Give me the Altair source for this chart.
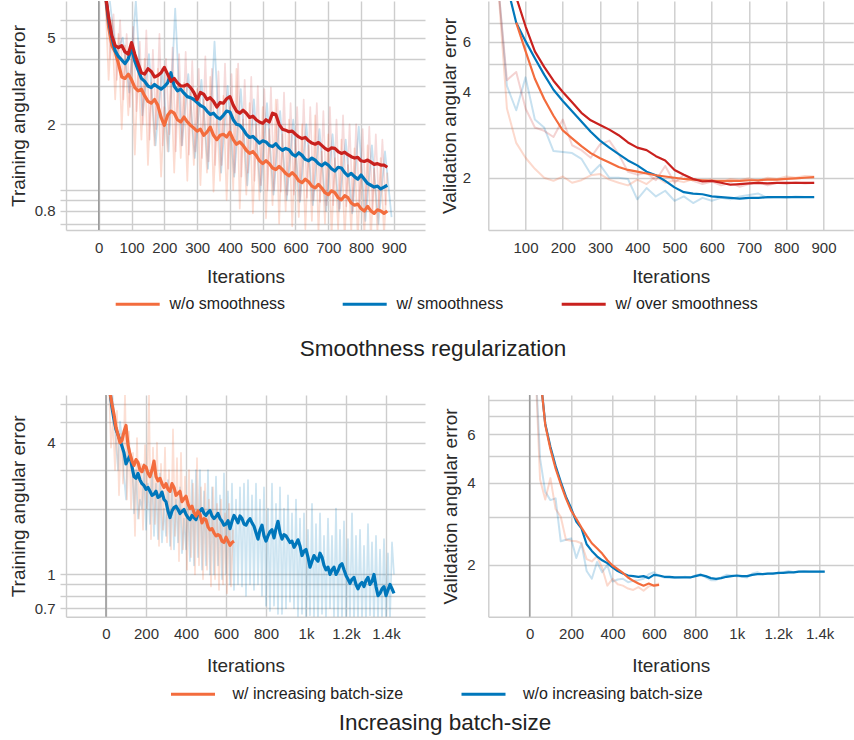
import altair as alt
import pandas as pd

# ---------------- data ----------------
# Top row: smoothness regularization
smooth_names = ["w/o smoothness", "w/ smoothness", "w/ over smoothness"]
# training, smoothed curves, iterations 20..880 step 10
tl_wo = [8.0, 5.6, 4.6, 4.3, 3.8, 3.3, 3.25, 3.4, 3.2, 2.95, 2.85, 2.9, 2.7, 2.55, 2.5, 2.6, 2.45, 2.15, 1.98, 2.2,
         2.3, 2.25, 2.1, 2.05, 2.16, 2.05, 1.98, 1.92, 1.86, 1.9, 1.78, 1.84, 1.94, 1.78, 1.7, 1.78, 1.8, 1.75, 1.84,
         1.7, 1.62, 1.66, 1.6, 1.52, 1.47, 1.5, 1.44, 1.36, 1.32, 1.36, 1.32, 1.26, 1.24, 1.28, 1.24, 1.19, 1.16,
         1.2, 1.16, 1.1, 1.08, 1.12, 1.09, 1.04, 1.02, 1.06, 1.02, 0.97, 0.95, 0.99, 0.97, 0.92, 0.9, 0.94, 0.92,
         0.87, 0.85, 0.86, 0.82, 0.8, 0.84, 0.8, 0.78, 0.81, 0.8, 0.78, 0.8]
tl_w = [8.0, 6.0, 5.0, 4.35, 4.1, 3.95, 3.8, 4.0, 4.5, 3.9, 3.55, 3.25, 3.15, 3.0, 2.95, 3.05, 2.97, 2.9, 2.98, 3.1,
        3.45, 3.0, 2.85, 2.9, 2.78, 2.68, 2.65, 2.6, 2.52, 2.44, 2.4, 2.3, 2.22, 2.25, 2.16, 2.12, 2.2, 2.3, 2.28,
        2.1, 2.0, 1.98, 1.9, 1.8, 1.74, 1.76, 1.7, 1.64, 1.68, 1.66, 1.6, 1.58, 1.63, 1.56, 1.52, 1.55, 1.53, 1.46,
        1.43, 1.48, 1.44, 1.38, 1.36, 1.4, 1.37, 1.32, 1.29, 1.33, 1.3, 1.25, 1.22, 1.27, 1.26, 1.2, 1.16, 1.19,
        1.15, 1.12, 1.17, 1.12, 1.07, 1.05, 1.03, 1.04, 1.01, 1.03, 1.05]
tl_over = [8.0, 6.2, 5.1, 4.6, 4.5, 4.6, 4.3, 4.2, 4.75, 4.2, 3.8, 3.45, 3.4, 3.6, 3.5, 3.3, 3.35, 3.45, 3.65, 3.4,
           3.15, 3.25, 3.1, 3.0, 3.0, 3.05, 2.95, 2.8, 2.6, 2.8, 2.75, 2.6, 2.65, 2.55, 2.4, 2.52, 2.5, 2.62, 2.68,
           2.45, 2.3, 2.25, 2.32, 2.25, 2.15, 2.18, 2.1, 2.05, 2.02, 2.1, 2.05, 2.25, 2.22, 2.0, 1.9, 1.88, 1.85,
           1.86, 1.8, 1.75, 1.72, 1.74, 1.68, 1.64, 1.62, 1.65, 1.6, 1.55, 1.52, 1.56, 1.55, 1.5, 1.47, 1.49, 1.45,
           1.42, 1.4, 1.41, 1.36, 1.35, 1.37, 1.34, 1.31, 1.32, 1.3, 1.3, 1.27]
# training, raw curves: orange step 10 from 20, red step 10 from 25, blue step 20 from 33
tl_raw_wo = [7.6, 3.2, 6.0, 2.6, 5.2, 1.9, 4.6, 2.2, 4.2,
             1.45, 3.8, 1.7, 4.0, 1.3, 3.1, 1.6, 3.6, 1.15, 2.4,
             1.5, 3.4, 1.2, 3.0, 1.4, 3.1, 1.1, 2.8, 1.3, 2.9,
             1.05, 2.6, 1.2, 3.3, 0.98, 2.2, 1.1, 2.7, 0.9, 2.4,
             1.0, 3.6, 0.82, 2.1, 0.95, 2.5, 0.78, 2.0, 0.9, 2.4,
             0.74, 1.9, 0.85, 2.6, 0.7, 1.8, 0.8, 2.1, 0.68, 1.7,
             0.75, 2.0, 0.66, 1.6, 0.72, 2.2, 0.64, 1.5, 0.7, 1.8,
             0.62, 1.4, 0.66, 1.7, 0.6, 1.3, 0.64, 1.55, 0.6, 1.35,
             0.62, 1.6, 0.6, 1.25, 0.64, 1.4, 0.62, 1.2]
tl_raw_over = [7.8, 4.0, 6.4, 3.2, 6.0, 2.6, 5.2, 2.4, 5.6, 2.3,
               4.8, 2.0, 5.4, 1.7, 4.4, 1.9, 5.2, 1.6, 4.0, 1.8,
               4.5, 1.5, 4.2, 1.6, 4.3, 1.45, 3.9, 1.5, 3.6, 1.4,
               4.1, 1.35, 3.6, 1.3, 3.5, 1.3, 3.8, 1.25, 3.4, 1.2,
               3.8, 1.15, 3.2, 1.2, 3.3, 1.1, 3.0, 1.05, 2.9, 1.0,
               2.95, 1.0, 2.6, 0.98, 2.8, 0.95, 2.5, 0.95, 2.4, 0.9,
               2.6, 0.92, 2.4, 0.9, 2.5, 0.88, 2.3, 0.85, 2.4, 0.85,
               2.1, 0.82, 2.2, 0.84, 2.0, 0.8, 2.0, 0.82, 1.9, 0.8,
               1.95, 0.8, 1.8, 0.82, 1.7, 0.85]
tl_raw_w = [7.5, 4.2, 5.0, 2.8, 7.4, 2.2, 4.2, 1.6, 3.6, 1.5, 6.8, 1.6, 3.4, 1.4, 3.2, 1.25, 4.8, 1.2, 3.0, 1.15,
            2.9, 1.05, 2.6, 0.98, 2.5, 0.95, 2.3, 0.9, 2.1, 0.88, 2.0, 0.85, 1.9, 0.8, 1.8, 0.8, 1.7, 0.78, 1.95,
            0.72, 1.6, 0.7, 1.5, 0.75]
# validation, smoothed (step 25; orange/red start 75, blue starts 50)
tr_wo = [7.0, 5.56, 4.45, 3.78, 3.3, 2.93, 2.75, 2.58, 2.44, 2.34, 2.26, 2.18, 2.13, 2.1, 2.07, 2.04, 2.02, 2.0,
         1.98, 1.97, 1.96, 1.95, 1.95, 1.95, 1.95, 1.96, 1.96, 1.97, 1.97, 1.98, 1.99, 2.0, 2.01]
tr_w = [9.5, 7.0, 6.03, 5.25, 4.6, 4.07, 3.72, 3.42, 3.15, 2.9, 2.7, 2.55, 2.42, 2.3, 2.21, 2.1, 2.04, 1.95, 1.85,
        1.78, 1.76, 1.75, 1.72, 1.71, 1.7, 1.69, 1.7, 1.7, 1.71, 1.71, 1.71, 1.71, 1.71, 1.71]
tr_over = [8.6, 6.8, 5.55, 4.9, 4.38, 4.0, 3.68, 3.38, 3.18, 3.06, 2.95, 2.82, 2.66, 2.55, 2.5, 2.38, 2.3, 2.13,
           2.05, 1.98, 1.94, 1.95, 1.92, 1.89, 1.9, 1.91, 1.92, 1.91, 1.92, 1.92, 1.92, 1.92, 1.92]
# validation, raw (step 25 from 25)
tr_raw_wo = [10.0, 3.5, 2.65, 2.35, 2.15, 2.0, 1.95, 2.02, 1.92, 1.96, 2.04, 2.06, 1.97, 1.92, 1.88, 1.97, 1.9,
             2.02, 1.92, 1.96, 1.93, 1.98, 1.95, 1.97, 1.92, 1.98, 1.96, 1.99, 1.95, 2.0, 1.98, 2.02, 2.0, 2.03, 2.02]
tr_raw_over = [10.0, 4.4, 4.7, 3.5, 3.0, 2.92, 2.78, 3.2, 2.6, 2.5, 2.35, 2.62, 2.7, 2.42, 2.1, 2.05, 2.08, 1.96,
               2.2, 1.92, 2.05, 1.95, 1.9, 1.94, 1.88, 1.92, 1.86, 1.9, 1.93, 1.88, 1.92, 1.9, 1.93, 1.91, 1.92]
tr_raw_w = [10.0, 4.2, 3.45, 4.5, 3.2, 3.0, 2.48, 2.46, 2.44, 2.33, 2.06, 2.22, 2.0, 2.0, 1.98, 1.68, 1.84, 1.72,
            1.8, 1.66, 1.72, 1.63, 1.7, 1.66, 1.7, 1.68, 1.72, 1.74, 1.76, 1.7, 1.71, 1.7, 1.72, 1.71, 1.71]

# Bottom row: increasing batch-size
batch_names = ["w/ increasing batch-size", "w/o increasing batch-size"]
# training smoothed, step 10 from 20
bl_w_inc = [6.8, 6.0, 5.4, 4.7, 4.35, 4.0, 4.1, 4.5, 4.8, 3.9,
            3.55, 3.3, 3.15, 3.35, 3.25, 3.0, 2.95, 3.15, 3.1, 2.9,
            2.8, 3.0, 3.3, 2.8, 2.68, 2.75, 2.6, 2.5, 2.6, 2.45,
            2.4, 2.6, 2.5, 2.3, 2.35, 2.4, 2.15, 2.22, 2.28, 2.1,
            2.0, 2.05, 1.92, 1.85, 1.95, 1.88, 1.72, 1.8, 1.78, 1.65,
            1.6, 1.62, 1.55, 1.5, 1.52, 1.5, 1.42, 1.4, 1.48, 1.42,
            1.36, 1.4, 1.42]
bl_wo_inc = [6.8, 5.8, 5.1, 4.6, 4.35, 4.1, 3.85, 3.6, 3.2, 3.35,
             3.5, 3.1, 2.8, 2.75, 2.9, 2.7, 2.6, 2.55, 2.45, 2.5,
             2.4, 2.3, 2.33, 2.4, 2.25, 2.28, 2.38, 2.2, 2.15, 1.95,
             1.82, 1.95, 2.02, 2.05, 1.98, 1.9, 1.94, 1.98, 1.88, 1.82,
             1.78, 1.86, 1.82, 1.78, 1.9, 1.95, 2.0, 1.9, 1.86, 1.92,
             1.96, 1.85, 1.8, 1.84, 1.9, 1.8, 1.75, 1.68, 1.7, 1.76,
             1.62, 1.75, 1.86, 1.8, 1.72, 1.85, 1.8, 1.7, 1.68, 1.75,
             1.8, 1.72, 1.66, 1.55, 1.45, 1.6, 1.68, 1.5, 1.42, 1.5,
             1.57, 1.6, 1.47, 1.62, 1.75, 1.55, 1.45, 1.52, 1.5, 1.45,
             1.4, 1.42, 1.33, 1.38, 1.44, 1.35, 1.22, 1.28, 1.3, 1.2,
             1.08, 1.15, 1.22, 1.18, 1.15, 1.25, 1.2, 1.1, 1.05, 1.08,
             1.0, 1.05, 1.08, 1.0, 1.04, 1.1, 1.12, 1.05, 0.99, 0.95,
             0.91, 0.95, 0.97, 0.9, 0.86, 0.9, 0.92, 0.88, 0.94, 0.97,
             0.9, 0.93, 1.0, 0.88, 0.8, 0.82, 0.86, 0.88, 0.8, 0.85,
             0.9, 0.86, 0.82]
# training raw: orange step 10 from 15, blue step 10 from 30
bl_raw_w_inc = [7.2, 3.8, 5.0, 3.0, 5.6, 2.3, 4.4, 2.6, 6.8, 2.2,
                4.5, 2.0, 3.6, 1.5, 4.2, 1.8, 3.2, 1.6, 3.9, 2.0,
                6.6, 1.45, 3.8, 1.7, 4.0, 1.35, 3.2, 1.6, 3.8, 1.4,
                3.0, 1.3, 4.6, 1.5, 3.4, 1.15, 3.6, 1.3, 2.8, 1.05,
                3.0, 1.2, 2.6, 1.0, 3.4, 1.1, 2.5, 0.95, 2.6, 1.05,
                2.2, 0.88, 2.5, 0.95, 2.1, 0.85, 2.2, 0.9, 1.9, 0.82,
                2.1, 0.88, 1.6]
bl_raw_wo_inc = [7.0, 5.5, 4.0, 3.0, 5.0, 4.2, 2.8, 2.2, 4.2, 3.6,
                 3.4, 1.9, 3.0, 1.8, 2.2, 2.0, 3.2, 1.6, 2.6, 1.7,
                 3.0, 1.5, 2.6, 1.45, 2.9, 1.4, 2.0, 1.5, 2.7, 1.35,
                 2.6, 1.3, 2.2, 1.4, 2.5, 1.25, 1.8, 1.3, 2.1, 1.15,
                 2.7, 1.1, 3.0, 1.2, 3.0, 1.05, 2.4, 1.1, 3.0, 1.0,
                 2.5, 1.0, 2.8, 1.1, 2.3, 0.95, 2.9, 1.0, 2.4, 0.9,
                 2.6, 0.85, 2.2, 0.9, 2.5, 0.88, 2.6, 0.8, 2.7, 0.9,
                 2.3, 0.85, 2.6, 0.9, 2.2, 0.8, 2.5, 0.72, 2.0, 0.68,
                 2.6, 0.72, 2.1, 0.66, 2.5, 0.66, 2.0, 0.7, 2.3, 0.75,
                 1.9, 0.7, 2.2, 0.64, 1.8, 0.66, 1.9, 0.62, 1.6, 0.65,
                 2.1, 0.63, 1.7, 0.6, 1.9, 0.66, 1.5, 0.62, 1.8, 0.7,
                 1.5, 0.64, 2.0, 0.6, 1.6, 0.62, 1.75, 0.6, 1.45, 0.63,
                 1.9, 0.6, 1.5, 0.62, 1.6, 0.62, 1.35, 0.6, 1.7, 0.65,
                 1.4, 0.6, 1.5, 0.62, 1.3, 0.62, 1.45, 0.6, 1.25, 0.62,
                 1.4, 1.0]
# validation smoothed, step 25 from 50
br_w_inc = [10.0, 6.5, 5.3, 4.5, 3.95, 3.5, 3.16, 2.95, 2.74, 2.56, 2.4, 2.3, 2.2, 2.08, 1.99, 1.93, 1.87, 1.8,
            1.75, 1.71, 1.68, 1.71, 1.68, 1.69]
br_wo_inc = [10.0, 6.56, 5.4, 4.6, 4.02, 3.55, 3.22, 2.88, 2.72, 2.38, 2.25, 2.15, 2.08, 2.03, 1.96, 1.9, 1.86, 1.83,
             1.82, 1.81, 1.82, 1.79, 1.84, 1.83, 1.81, 1.81, 1.8, 1.8, 1.8, 1.8, 1.82, 1.84, 1.82, 1.79, 1.78, 1.79,
             1.81, 1.82, 1.83, 1.82, 1.82, 1.84, 1.85, 1.85, 1.86, 1.86, 1.87, 1.87, 1.88, 1.88, 1.89, 1.89, 1.89,
             1.89, 1.89, 1.89]
# validation raw, step 25 from 25
br_raw_w_inc = [12.0, 4.1, 3.47, 4.15, 3.2, 3.0, 2.47, 2.45, 2.44, 2.4, 2.1, 2.06, 2.15, 1.95, 1.68, 1.78, 1.7,
                1.68, 1.64, 1.62, 1.66, 1.61, 1.67, 1.69, 1.71]
br_raw_wo_inc = [12.0, 4.9, 3.7, 3.45, 3.5, 2.44, 2.47, 2.5, 2.12, 2.4, 1.9, 1.78, 2.05, 1.88, 2.0, 1.74, 1.77, 1.78,
                 1.73, 1.75, 1.76, 1.78, 1.85, 1.88, 1.82, 1.8, 1.79, 1.79, 1.8, 1.81, 1.8, 1.83, 1.85, 1.8, 1.76,
                 1.76, 1.8, 1.84, 1.83, 1.82, 1.81, 1.8, 1.86, 1.88, 1.85, 1.86, 1.87, 1.86, 1.88, 1.9, 1.88, 1.89,
                 1.9, 1.89, 1.89, 1.89, 1.89]

# axis tick values
tl_xvals = [-100, 0, 100, 200, 300, 400, 500, 600, 700, 800, 900]
tr_xvals = [0, 100, 200, 300, 400, 500, 600, 700, 800, 900]
b_xvals = [-200, 0, 200, 400, 600, 800, 1000, 1200, 1400]
train_grid = [0.7, 0.8, 0.9, 1, 2, 3, 4, 5, 6]
val_grid_top = [2, 3, 4, 5, 6, 7]
val_grid_bot = [2, 3, 4, 5, 6, 7, 8]
zero_iter = [0]

# ---------------- style ----------------
FONT = "Liberation Sans"
TXT = "#333333"
TITLE_C = "#2a2a2a"
GRID = "#cdcdcd"
ZERO = "#9c9c9c"
ORANGE, BLUE, RED = "#f36c3d", "#0077bb", "#c9211e"

K_EXPR = ("datum.value < 0 ? '' : (datum.value >= 1000 ? format(datum.value / 1000, '~g') + 'k' "
          ": format(datum.value, 'd'))")


def sdf(start, step, values):
    return pd.DataFrame({"iter": [start + step * i for i in range(len(values))], "value": values})


def panel(raws, smooths, xdom, xvals, xhide, ydom, yvals, ylabs, ytitle, width, height,
          sw, yticks, ylpad, ytpad, xtpad, zero_line=True):
    labs = ",".join(str(v) for v in ylabs)
    x = alt.X("iter:Q", title="Iterations",
              scale=alt.Scale(domain=xdom, nice=False, zero=False),
              axis=alt.Axis(values=xvals, labelExpr=xhide, grid=True, gridColor=GRID,
                            gridWidth=1.4, ticks=False, domain=True, domainColor=GRID, domainWidth=1.4,
                            labelPadding=10, titlePadding=xtpad, labelFlush=False, labelOverlap=False))
    yaxis = dict(values=yvals, format="~g", labelExpr="indexof([" + labs + "], datum.value) >= 0 ? datum.label : ''",
                 grid=True, gridColor=GRID, gridWidth=1.4, domain=False, labelPadding=ylpad,
                 titlePadding=ytpad, labelOverlap=False, labelFlush=False)
    if yticks:
        yaxis.update(ticks=True, tickSize=6, tickColor=GRID, tickWidth=1.4)
    else:
        yaxis.update(ticks=False)
    y = alt.Y("value:Q", title=ytitle, scale=alt.Scale(type="log", domain=ydom, nice=False),
              axis=alt.Axis(**yaxis))
    layers = []
    if zero_line:
        layers.append(alt.Chart(pd.DataFrame({"iter": zero_iter})).mark_rule(
            color=ZERO, strokeWidth=1.6).encode(x=x))
    for df, col, op, w in raws:
        layers.append(alt.Chart(df).mark_line(strokeWidth=w, opacity=op, clip=True,
                                              strokeJoin="round").encode(x=x, y=y, color=alt.value(col)))
    for df, col in smooths:
        layers.append(alt.Chart(df).mark_line(strokeWidth=sw, clip=True,
                                              strokeJoin="round").encode(x=x, y=y, color=alt.value(col)))
    return alt.layer(*layers).properties(width=width, height=height)


TL = panel(
    raws=[(sdf(33, 20, tl_raw_w), BLUE, 0.22, 1.8), (sdf(20, 10, tl_raw_wo), ORANGE, 0.24, 1.7),
          (sdf(25, 10, tl_raw_over), RED, 0.16, 1.7)],
    smooths=[(sdf(20, 10, tl_wo), ORANGE), (sdf(20, 10, tl_w), BLUE), (sdf(20, 10, tl_over), RED)],
    xdom=[-100, 995], xvals=tl_xvals, xhide="datum.value < 0 ? '' : format(datum.value, 'd')",
    ydom=[0.654, 7.37], yvals=train_grid, ylabs=[5, 2, 0.8], ytitle="Training angular error",
    width=359, height=229, sw=3.2, yticks=True, ylpad=5, ytpad=6, xtpad=12)

TR = panel(
    raws=[(sdf(25, 25, tr_raw_w), BLUE, 0.22, 2), (sdf(25, 25, tr_raw_wo), ORANGE, 0.26, 2),
          (sdf(25, 25, tr_raw_over), RED, 0.2, 2)],
    smooths=[(sdf(50, 25, tr_w), BLUE), (sdf(75, 25, tr_wo), ORANGE), (sdf(75, 25, tr_over), RED)],
    xdom=[0, 980], xvals=tr_xvals, xhide="datum.value <= 0 ? '' : format(datum.value, 'd')",
    ydom=[1.311, 8.34], yvals=val_grid_top, ylabs=[2, 4, 6], ytitle="Validation angular error",
    width=365, height=229, sw=2.2, yticks=False, ylpad=17.6, ytpad=3, xtpad=12, zero_line=False)

BL = panel(
    raws=[(sdf(30, 10, bl_raw_wo_inc), BLUE, 0.2, 1.7), (sdf(15, 10, bl_raw_w_inc), ORANGE, 0.22, 1.7)],
    smooths=[(sdf(20, 10, bl_wo_inc), BLUE), (sdf(20, 10, bl_w_inc), ORANGE)],
    xdom=[-200, 1595], xvals=b_xvals, xhide=K_EXPR,
    ydom=[0.641, 6.61], yvals=train_grid, ylabs=[4, 1, 0.7], ytitle="Training angular error",
    width=359, height=221.7, sw=3.2, yticks=True, ylpad=5, ytpad=6, xtpad=15)

BR = panel(
    raws=[(sdf(25, 25, br_raw_wo_inc), BLUE, 0.22, 2), (sdf(25, 25, br_raw_w_inc), ORANGE, 0.26, 2)],
    smooths=[(sdf(50, 25, br_wo_inc), BLUE), (sdf(50, 25, br_w_inc), ORANGE)],
    xdom=[-200, 1563], xvals=b_xvals, xhide=K_EXPR,
    ydom=[1.294, 8.35], yvals=val_grid_bot, ylabs=[2, 4, 6], ytitle="Validation angular error",
    width=365, height=221.7, sw=2.2, yticks=False, ylpad=13.3, ytpad=6, xtpad=15)


def legend_chart(names, colors, width, height, lx, ly, loff, cpad, title, dx, dy):
    df = pd.DataFrame({"series": names})
    return alt.Chart(df).mark_point(opacity=0, filled=False).encode(
        x=alt.value(0), y=alt.value(0),
        color=alt.Color("series:N", scale=alt.Scale(domain=names, range=colors),
                        legend=alt.Legend(orient="none", legendX=lx, legendY=ly, direction="horizontal",
                                          title=None, symbolType="stroke", symbolSize=1936,
                                          symbolStrokeWidth=3, symbolOpacity=1, labelFont=FONT,
                                          labelFontSize=16, labelColor="#222222", labelOffset=loff,
                                          columnPadding=cpad, labelLimit=400, padding=0))
    ).properties(width=width, height=height,
                 title=alt.TitleParams(title, orient="top", anchor="middle", frame="group", offset=0,
                                       baseline="middle", dx=dx, dy=dy, fontSize=22.5, font=FONT,
                                       color="#222222", fontWeight="normal"))


def blank(width, height):
    return alt.Chart(pd.DataFrame({"series": ["a"]})).mark_point(opacity=0).encode(
        x=alt.value(0), y=alt.value(0)).properties(width=width, height=height)


leg1 = legend_chart(smooth_names, [ORANGE, BLUE, RED], 359, 164.3, 48.2, 50.5, 8.3, 51,
                    "Smoothness regularization", 187.5, 144)
leg2 = legend_chart(batch_names, [ORANGE, BLUE], 359, 120, 103.5, 53.5, 16, 51.5,
                    "Increasing batch-size", 199.5, 131)

chart = alt.concat(
    TL, TR, leg1, blank(365, 164.3), BL, BR, leg2, blank(365, 120),
    columns=2, spacing={"row": 0, "column": 63.3}, bounds="flush", align="each"
).resolve_scale(
    x="independent", y="independent", color="independent"
).resolve_legend(color="independent").properties(
    padding={"left": 9, "top": 0, "right": 0, "bottom": 0}
).configure_view(strokeWidth=0).configure_axis(
    labelFont=FONT, titleFont=FONT, labelFontSize=15, titleFontSize=19, labelColor=TXT,
    titleColor=TITLE_C, titleFontWeight="normal"
)

chart.save("out.html", embed_options={"renderer": "svg", "actions": False})
